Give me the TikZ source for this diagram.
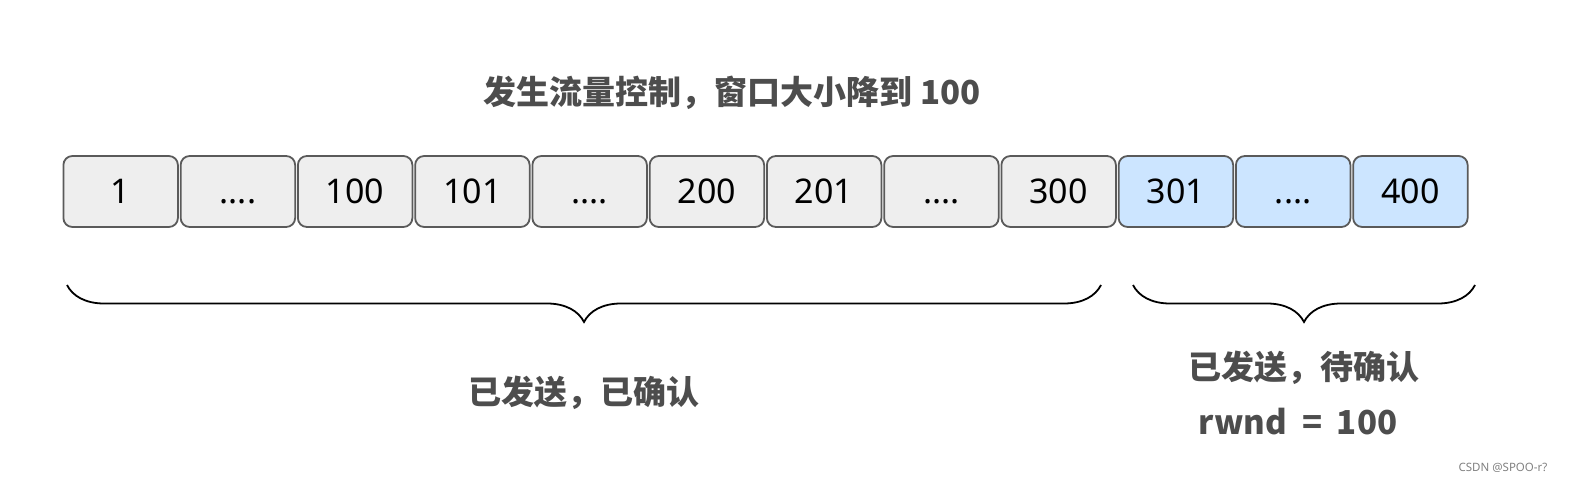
\documentclass[tikz,border=0pt]{standalone}
\usepackage{fontspec}
\setmainfont{Noto Sans}
\newfontfamily\cjk{Noto Sans CJK SC}
\usetikzlibrary{decorations.pathreplacing}

\definecolor{cellgray}{HTML}{EEEEEE}
\definecolor{cellblue}{HTML}{CCE5FF}
\definecolor{cellline}{HTML}{5A5A5A}
\definecolor{labelgray}{HTML}{4D4D4D}
\newcommand{\waitdots}{....}

\begin{document}
\begin{tikzpicture}[x=1bp, y=-1bp,
    cell/.style={draw=cellline, line width=1.8bp, rounded corners=9bp,
      minimum width=114.5bp, minimum height=71bp, inner sep=0pt,
      text height=24bp, text depth=0pt,
      font=\fontsize{34bp}{34bp}\selectfont, text=black},
    label/.style={text=labelgray, font=\cjk\bfseries\fontsize{33bp}{40bp}\selectfont},
    brace/.style={decorate, decoration={brace, mirror, amplitude=37bp}, line width=1.8bp}]
    \useasboundingbox (0,0) rectangle (1581,487);

    % window cells
    \foreach \num [count=\i] in {1,\waitdots,100,101,\waitdots,200,201,\waitdots,300}
        \node [cell, fill=cellgray] (b\i) at (3.4+117.25*\i, 191.5) {\num};
    \foreach \num [count=\i from 10] in {301,\waitdots,400}
        \node [cell, fill=cellblue] (b\i) at (3.4+117.25*\i, 191.5) {\num};

    % braces below
    \coordinate (ackL)  at (67,285);
    \coordinate (ackR)  at (1101,285);
    \coordinate (waitL) at (1133,285);
    \coordinate (waitR) at (1475,285);
    \draw [brace] (ackL) -- (ackR);
    \draw [brace] (waitL) -- (waitR);

    % labels
    \node [label] (title)   at (732,93)   {发生流量控制，窗口大小降到 100};
    \node [label] (acked)   at (584,393)  {已发送，已确认};
    \node [label] (unacked) at (1304,368) {已发送，待确认};
    \node [label] (rwnd)    at (1298,422) {rwnd\hspace{0.45em}=\hspace{0.45em}100};
    \node [text=gray, font=\fontsize{11.5bp}{13bp}\selectfont] (mark) at (1503,468) {CSDN @SPOO-r?};
\end{tikzpicture}
\end{document}
